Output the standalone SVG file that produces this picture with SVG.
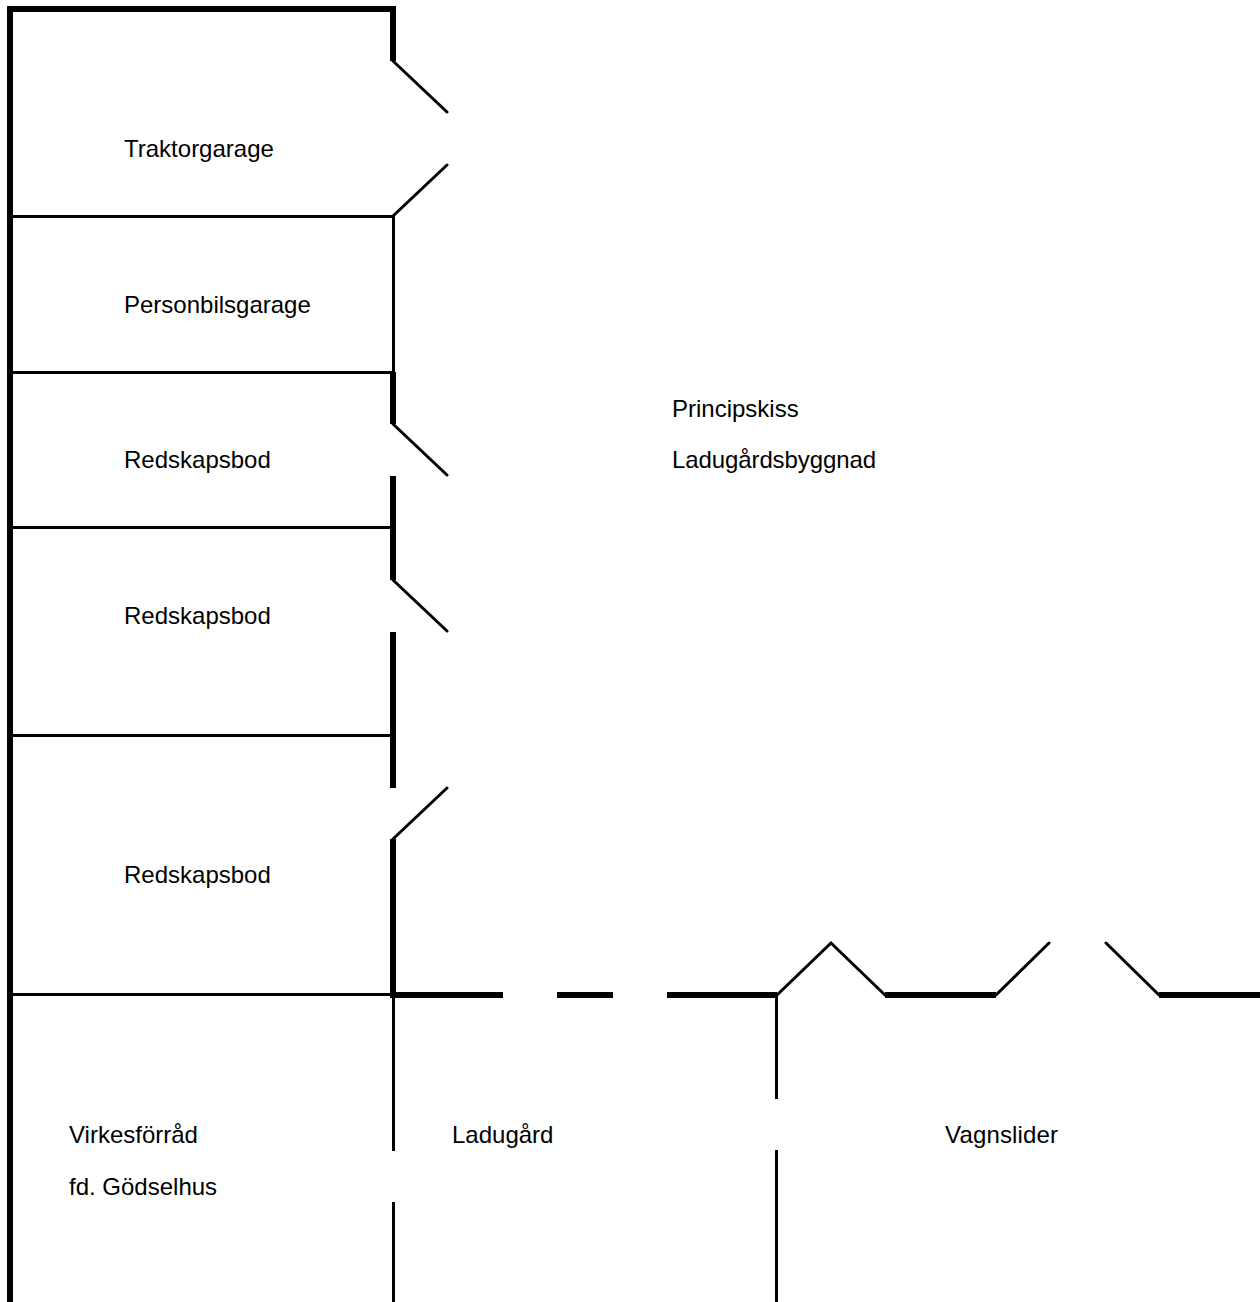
<svg xmlns="http://www.w3.org/2000/svg" width="1260" height="1302" viewBox="0 0 1260 1302">
<style>
.t{fill:none;stroke:#000;stroke-width:6}
.n{fill:none;stroke:#000;stroke-width:3}
.d{fill:none;stroke:#000;stroke-width:3;stroke-linecap:round}
text{font-family:"Liberation Sans",Arial,sans-serif;font-size:24px;fill:#000}
</style>
<rect width="1260" height="1302" fill="#fff"/>
<g id="walls-thin">
<path class="n" d="M10 216.500H393M10 372.500H393M10 527.500H393M10 735.500H393M10 994.500H393"/>
<path class="n" d="M393.500 216V372M393.500 995V1151M393.500 1202V1302M776.500 995V1099M776.500 1150V1302"/>
</g>
<g id="walls-thick">
<path class="t" d="M10 1302V9H393V61"/>
<path class="t" d="M393 372V424M393 476V580M393 632V788M393 839V998"/>
<path class="t" d="M390 995H503M557 995H613M667 995H777M885 995H996M1159 995H1260"/>
</g>
<g id="doors">
<path class="d" d="M393 61L447 112M393 216L447 165M393 424L447 475M393 580L447 631M393 839L447 788M777 995L831 943L885 995M996 995L1049 943M1106 943L1159 995"/>
</g>
<g id="labels">
<text x="124" y="157">Traktorgarage</text>
<text x="124" y="313">Personbilsgarage</text>
<text x="124" y="468">Redskapsbod</text>
<text x="124" y="624">Redskapsbod</text>
<text x="124" y="883">Redskapsbod</text>
<text x="672" y="417">Principskiss</text>
<text x="672" y="468" textLength="204">Ladugårdsbyggnad</text>
<text x="69" y="1143">Virkesförråd</text>
<text x="69" y="1195">fd. Gödselhus</text>
<text x="452" y="1143">Ladugård</text>
<text x="945" y="1143" textLength="113">Vagnslider</text>
</g>
</svg>
